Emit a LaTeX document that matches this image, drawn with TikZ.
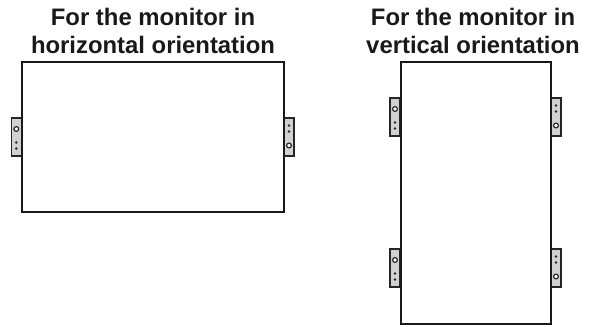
\documentclass[tikz,border=0pt]{standalone}
\usepackage{fontspec}
\setmainfont{Liberation Sans}
\tikzset{
  x=0.75pt,y=-0.75pt,
  panel/.style={draw=black!90,line width=1.5pt},
  bracketbox/.style={draw=black!85,fill=black!18,line width=1.1pt},
  holering/.style={draw=black!85,line width=0.9pt,fill=white},
  holedot/.style={fill=black!85},
  heading/.style={font=\bfseries\fontsize{17.9pt}{20.6pt}\selectfont,align=center,text=black!90,inner sep=0pt}
}
\newcommand{\lugtop}[2]{%
  \draw[bracketbox] (#1-5,#2) rectangle (#1+5,#2+38);
  \draw[holering] (#1,#2+11) circle (2.4);
  \fill[holedot] (#1,#2+24.5) circle (1.4);
  \fill[holedot] (#1,#2+30.5) circle (1.4);
}
\newcommand{\lugbot}[2]{%
  \draw[bracketbox] (#1-5,#2) rectangle (#1+5,#2+38);
  \draw[holering] (#1,#2+27.5) circle (2.4);
  \fill[holedot] (#1,#2+7.5) circle (1.4);
  \fill[holedot] (#1,#2+13.5) circle (1.4);
}
\begin{document}
\begin{tikzpicture}
\useasboundingbox (0,0) rectangle (592,327);
\node[heading] (titleh) at (153,31) {For the monitor in\\horizontal orientation};
\node[heading] (titlev) at (473,31) {For the monitor in\\vertical orientation};
\lugtop{16.3}{118}
\lugbot{289}{118}
\lugtop{395}{98}
\lugtop{395}{249}
\lugbot{556}{98}
\lugbot{556}{249}
\draw[panel] (21.5,62) rectangle (284,212);
\draw[panel] (400.5,62) rectangle (551,324);
\end{tikzpicture}
\end{document}
